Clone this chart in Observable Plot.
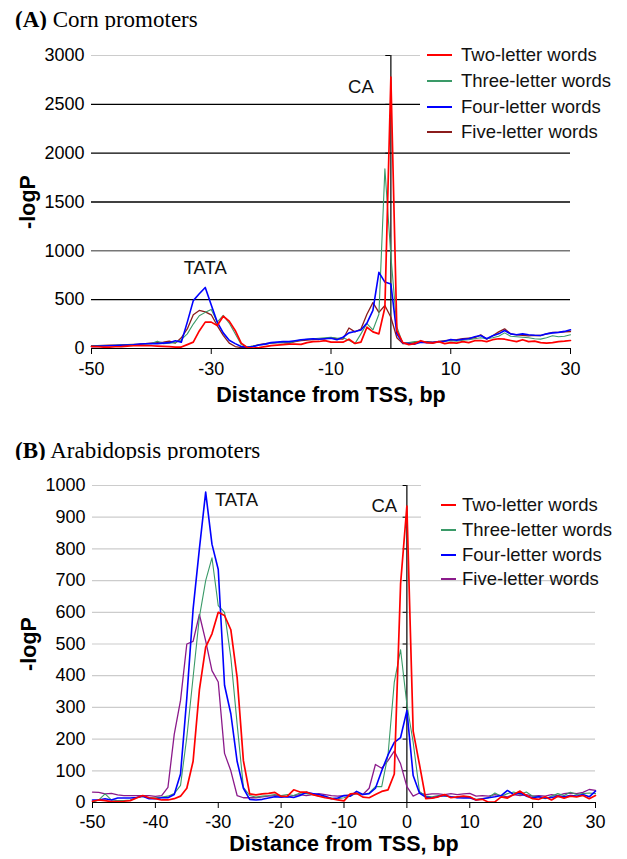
<!DOCTYPE html>
<html><head><meta charset="utf-8">
<script src="https://cdn.jsdelivr.net/npm/d3@7"></script>
<script src="https://cdn.jsdelivr.net/npm/@observablehq/plot@0.6"></script>
<style>
body{margin:0;background:#fff;}
#wrap{position:relative;width:627px;height:859px;overflow:hidden;font-family:"Liberation Sans",Arial,sans-serif;}
.title{position:absolute;left:15px;font-family:"Liberation Serif","Times New Roman",serif;font-size:23px;line-height:23px;white-space:nowrap;color:#000}
.plot{position:absolute;left:0}
.legend{position:absolute;background:#fff;}
.legend .row{position:absolute;left:0;height:20px;width:200px;}
.legend .sw{position:absolute;top:9px;height:0;border-top:2px solid #000;}
.legend .lb{position:absolute;top:0;font-size:18.5px;line-height:20px;color:#111;white-space:nowrap;}
svg [aria-label="x-axis label"], svg [aria-label="y-axis label"]{font-weight:bold;font-size:21.5px;}
</style>
</head><body>
<div id="wrap"></div>
<script>
// ---------- data ----------
const seriesA = ["Two-letter words", "Three-letter words", "Four-letter words", "Five-letter words"];
const seriesB = ["Two-letter words", "Three-letter words", "Four-letter words", "Five-letter words"];
const positions = d3.range(-50, 31); // bp from TSS, -50 .. 30

// Panel A: corn promoters (-logP)
const cornTwo = [20,18,15,15,18,20,25,28,30,30,28,25,22,20,15,15,40,65,180,270,270,235,330,280,185,55,10,5,10,20,30,35,40,45,45,42,60,70,72,80,65,65,65,95,51,65,218,170,150,420,2780,180,60,40,50,80,60,55,70,50,60,55,70,60,80,82,70,90,100,95,82,70,90,70,75,60,55,60,70,75,82];
const cornThree = [25,25,28,30,32,35,38,40,42,45,50,75,50,55,60,90,150,250,335,370,400,270,340,260,150,40,15,25,35,45,55,60,60,55,75,90,95,100,105,110,115,105,110,85,50,150,255,190,350,1840,950,220,50,60,70,75,65,60,70,75,80,75,85,90,100,110,100,110,125,160,125,120,115,110,100,96,110,130,120,125,140];
const cornFour = [20,22,25,28,30,32,35,38,45,48,50,50,55,60,80,65,270,490,560,625,445,270,160,85,50,20,12,20,35,45,60,65,70,70,80,90,95,100,95,100,105,90,115,160,175,190,260,390,780,680,660,150,55,50,45,65,60,60,70,75,92,85,95,100,120,133,100,130,150,184,150,140,150,140,135,133,150,160,165,175,191];
const cornFive = [30,30,32,35,35,38,40,42,45,50,55,60,65,75,55,110,200,345,390,375,345,235,135,55,20,10,15,25,40,50,55,60,60,55,70,80,85,90,95,100,110,100,95,210,170,200,350,470,370,440,320,110,50,55,60,65,70,65,70,80,85,90,100,105,110,140,96,130,170,201,150,140,135,130,135,133,150,164,165,170,174];

// Panel B: Arabidopsis promoters (-logP)
const araTwo = [4,8,6,3,3,4,6,14,22,15,12,8,8,12,20,45,130,355,490,532,600,590,545,395,132,27,24,27,29,32,19,20,40,33,33,25,20,15,12,8,5,27,29,17,15,25,35,40,90,690,935,225,120,12,14,18,25,15,18,20,18,8,10,1,2,18,14,25,36,22,12,10,18,8,20,14,20,18,22,12,22];
const araThree = [1,8,27,8,6,6,8,16,19,15,15,17,20,28,54,206,395,585,700,772,621,600,458,248,48,22,17,20,22,25,22,25,22,30,28,25,20,18,14,12,15,20,30,25,30,50,50,150,380,482,310,190,35,20,18,22,20,18,15,18,15,10,12,15,30,20,28,33,25,33,20,18,12,20,28,22,32,25,28,30,28];
const araFour = [8,8,12,8,14,14,14,16,20,12,12,15,15,25,90,330,610,800,979,815,735,370,280,130,45,10,8,10,14,18,17,18,16,22,32,28,25,20,12,14,22,20,35,25,28,45,100,150,190,205,290,85,30,17,14,19,22,18,15,14,15,8,12,15,18,22,38,25,30,20,15,18,14,16,20,18,22,20,25,18,36];
const araFive = [33,32,27,29,24,22,22,22,22,22,19,22,48,215,322,500,508,593,510,416,380,155,100,22,15,15,15,18,20,22,22,18,22,25,22,25,28,25,22,20,22,25,28,25,45,120,108,132,162,122,50,20,30,25,27,27,25,28,25,27,29,20,22,20,25,22,18,25,22,25,20,22,20,25,22,28,30,28,32,41,38];

// ticks and annotations
const xTicksA = [-50, -30, -10, 10, 30];
const yTicksA = [0, 500, 1000, 1500, 2000, 2500, 3000];
const xTicksB = [-50, -40, -30, -20, -10, 0, 10, 20, 30];
const yTicksB = [0, 100, 200, 300, 400, 500, 600, 700, 800, 900, 1000];
const annotA = ["TATA", "CA"];
const annotAx = [-31, -5];
const annotAy = [819, 2675];
const annotB = ["TATA", "CA"];
const annotBx = [-27.1, -3.6];
const annotBy = [953, 934];

// ---------- build ----------
function rows(names, arrays) {
  const out = [];
  names.forEach((s, i) => arrays[i].forEach((v, j) => out.push({x: positions[j], v, s})));
  return out;
}
const dataA = rows(seriesA, [cornTwo, cornThree, cornFour, cornFive]);
const dataB = rows(seriesB, [araTwo, araThree, araFour, araFive]);
const colorsA = ["#ff0000", "#3a9a68", "#0000ff", "#8b1c1c"];
const colorsB = ["#ff0000", "#3a9a68", "#0000ff", "#8b1a8b"];
const widths = [1.7, 1.1, 1.6, 1.3];

function lineMarks(data, names) {
  const order = [3, 1, 2, 0];
  return order.map(i => Plot.line(data.filter(d => d.s === names[i]), {x: "x", y: "v", stroke: "s", strokeWidth: widths[i]}));
}

const wrap = document.getElementById("wrap");

function addTitle(top, tag, text) {
  const d = document.createElement("div");
  d.className = "title";
  d.style.top = top + "px";
  d.innerHTML = "<b>" + tag + "</b> " + text;
  wrap.appendChild(d);
}

function addLegend(top, left, height, names, colors, rowTops, swLeft, swWidth, lbLeft) {
  const L = document.createElement("div");
  L.className = "legend";
  L.style.top = top + "px"; L.style.left = left + "px";
  L.style.width = (627 - left) + "px"; L.style.height = height + "px";
  names.forEach((n, i) => {
    const r = document.createElement("div");
    r.className = "row"; r.style.top = rowTops[i] + "px";
    const sw = document.createElement("div");
    sw.className = "sw"; sw.style.left = swLeft + "px"; sw.style.width = swWidth + "px";
    sw.style.borderTopColor = colors[i];
    const lb = document.createElement("div");
    lb.className = "lb"; lb.style.left = lbLeft + "px"; lb.textContent = n;
    r.appendChild(sw); r.appendChild(lb); L.appendChild(r);
  });
  wrap.appendChild(L);
}

const commonStyle = {fontFamily: "'Liberation Sans', Arial, sans-serif", fontSize: "18px", color: "#000", background: "#fff", overflow: "visible"};

// Panel A
addTitle(8, "(A)", "Corn promoters");
const plotA = Plot.plot({
  width: 627, height: 378,
  marginLeft: 91, marginRight: 57, marginTop: 25, marginBottom: 60,
  style: commonStyle,
  x: {domain: [-50, 30]},
  y: {domain: [0, 3000]},
  color: {domain: seriesA, range: colorsA},
  marks: [
    Plot.ruleY([3000], {stroke: "#cccccc", strokeWidth: 1.2}),
    Plot.ruleY([2500, 2000, 1500, 500], {stroke: "#000", strokeWidth: 1.3}),
    Plot.ruleY([1000], {stroke: "#777", strokeWidth: 1.5}),
    Plot.axisY({ticks: yTicksA, tickSize: 0, tickPadding: 7, tickFormat: d => String(d), label: "-logP", labelAnchor: "center", labelArrow: "none", labelOffset: 72}),
    Plot.axisX({ticks: xTicksA, tickSize: 6, tickPadding: 8, tickFormat: d => String(d), label: "Distance from TSS, bp", labelAnchor: "center", labelArrow: "none", labelOffset: 53}),
    Plot.ruleX([0], {y1: 0, y2: 3000, stroke: "#000", strokeWidth: 1.2}),
    Plot.ruleY(yTicksA, {x1: -0.85, x2: 0, stroke: "#000"}),
    ...lineMarks(dataA, seriesA),
    Plot.ruleY([0], {stroke: "#000", strokeWidth: 1.2}),
    Plot.text(annotA, {x: (d, i) => annotAx[i], y: (d, i) => annotAy[i], text: d => d, fontSize: 18.5, fill: "#111"})
  ]
});
plotA.classList.add("plot");
plotA.style.top = "30px";
wrap.appendChild(plotA);
addLegend(45, 420, 100, seriesA, colorsA, [0, 26, 52, 77], 7, 25, 41);

// Panel B
addTitle(439, "(B)", "Arabidopsis promoters");
const plotB = Plot.plot({
  width: 627, height: 397,
  marginLeft: 92, marginRight: 32, marginTop: 25, marginBottom: 55,
  style: commonStyle,
  x: {domain: [-50, 30]},
  y: {domain: [0, 1000]},
  color: {domain: seriesB, range: colorsB},
  marks: [
    Plot.ruleY(yTicksB.filter(d => d > 0), {stroke: "#cccccc", strokeWidth: 1.2}),
    Plot.axisY({ticks: yTicksB, tickSize: 0, tickPadding: 7, tickFormat: d => String(d), label: "-logP", labelAnchor: "center", labelArrow: "none", labelOffset: 72}),
    Plot.axisX({ticks: xTicksB, tickSize: 6, tickPadding: 7, tickFormat: d => String(d), label: "Distance from TSS, bp", labelAnchor: "center", labelArrow: "none", labelOffset: 48}),
    Plot.ruleX([0], {y1: 0, y2: 1000, stroke: "#000", strokeWidth: 1.2}),
    Plot.ruleY(yTicksB, {x1: -0.6, x2: 0, stroke: "#000"}),
    ...lineMarks(dataB, seriesB),
    Plot.ruleY([0], {stroke: "#000", strokeWidth: 1.2}),
    Plot.text(annotB, {x: (d, i) => annotBx[i], y: (d, i) => annotBy[i], text: d => d, fontSize: 18.5, fill: "#111"})
  ]
});
plotB.classList.add("plot");
plotB.style.top = "460px";
wrap.appendChild(plotB);
addLegend(476, 421, 94, seriesB, colorsB, [19, 44, 69, 93], 20, 15, 41);
</script>
</body></html>
